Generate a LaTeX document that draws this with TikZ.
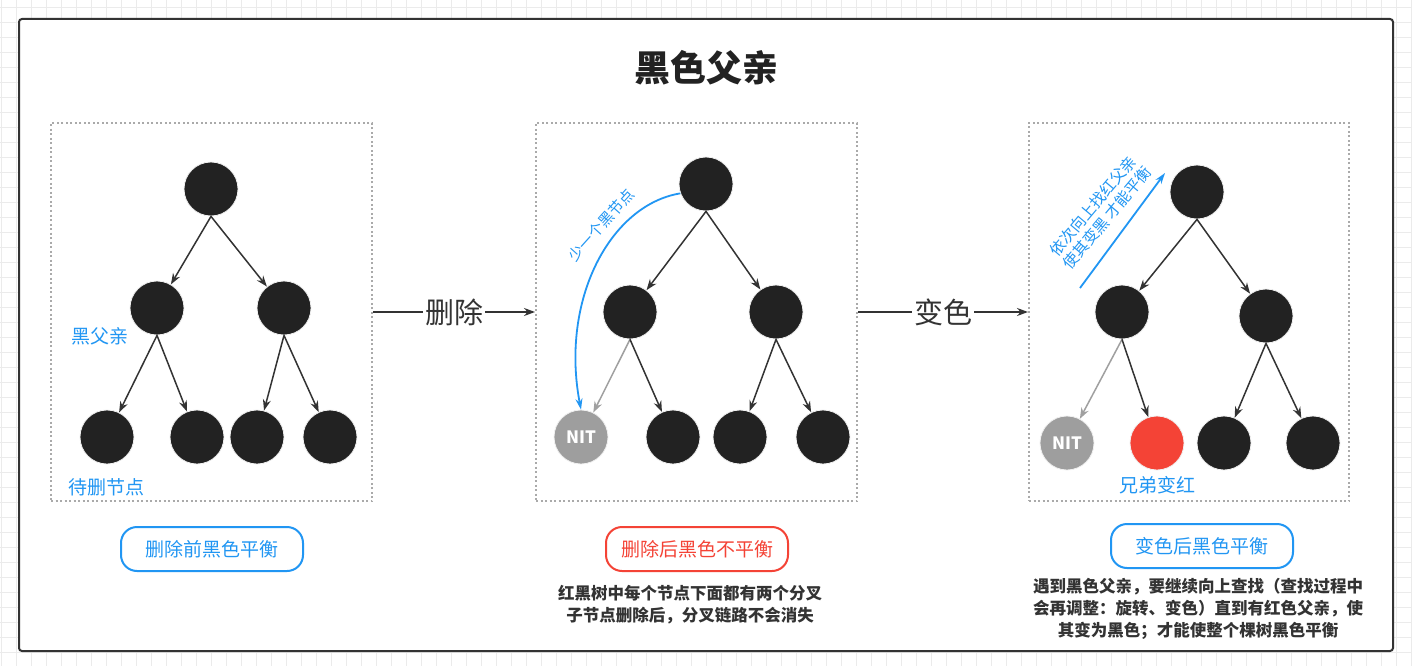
\documentclass[tikz,border=0pt]{standalone}
\usepackage{fontspec}
\setmainfont{Noto Sans CJK SC}
\usepackage{xcolor}
\usetikzlibrary{arrows.meta}
\definecolor{nodeblack}{HTML}{222222}
\definecolor{nilgray}{HTML}{9E9E9E}
\definecolor{nodered}{HTML}{F44336}
\definecolor{tipblue}{HTML}{2196F3}
\definecolor{arrowdark}{HTML}{333333}
\definecolor{arrowlight}{HTML}{A0A0A0}
\definecolor{panelgray}{HTML}{AAAAAA}
\definecolor{gridgray}{HTML}{EBEBEB}
\newcommand{\fsz}[2]{\fontsize{#1}{#2}\selectfont}

\begin{document}
\begin{tikzpicture}[x=1pt,y=-1pt,
    blk/.style={circle,fill=nodeblack,draw=black!6,line width=0.8pt,minimum size=54pt,inner sep=0pt},
    nilnode/.style={blk,fill=nilgray,text=white,font=\fsz{17}{17}\bfseries},
    rednode/.style={blk,fill=nodered},
    edge/.style={-{Stealth[length=11pt,width=8pt]},line width=1.5pt,arrowdark},
    niledge/.style={edge,arrowlight},
    flow/.style={-{Stealth[length=11pt,width=8pt]},line width=1.6pt,arrowdark},
    opname/.style={fill=white,inner sep=2pt,text=arrowdark,font=\fsz{29}{29}},
    panel/.style={draw=panelgray,line width=2pt,dash pattern=on 2pt off 2.5pt,minimum height=378pt,inner sep=0pt},
    pill/.style={draw,line width=2pt,rounded corners=16pt,minimum width=182pt,minimum height=44pt,font=\fsz{19}{19}},
    tip/.style={text=tipblue,font=\fsz{19}{19},inner sep=0pt},
    hint/.style={-{Stealth[length=11pt,width=7pt]},line width=1.8pt,tipblue},
    remark/.style={align=center,text=arrowdark,font=\fsz{16.5}{22}\bfseries},
    gridline/.style={gridgray,line width=0.8pt}
]
\useasboundingbox (0,0) rectangle (1412,666);
%%% background grid and frame
\foreach \gx in {1,16,...,1411} \draw[gridline] (\gx,0) -- (\gx,666);
\foreach \gy in {7,22,...,666} \draw[gridline] (0,\gy) -- (1412,\gy);
\draw[fill=white,draw=arrowdark,line width=2pt,rounded corners=3pt] (19,19) rectangle (1393,651);
\node[font=\fsz{36}{36}\bfseries,text=nodeblack] (title) at (706,68) {黑色父亲};

%%% panels
\node[panel,minimum width=321pt] (pan1) at (211.5,312) {};
\node[panel,minimum width=321pt] (pan2) at (696.5,312) {};
\node[panel,minimum width=320pt] (pan3) at (1189,312) {};
\draw[flow] (pan1.east) -- node[opname] (opdel) {删除} (pan2.west);
\draw[flow] (pan2.east) -- node[opname] (oprecolor) {变色} (pan3.west);

%%% panel 1: before deletion
\node[blk] (a1) at (211,189) {};
\node[blk] (a2) at (157,308) {};
\node[blk] (a3) at (284,308) {};
\node[blk] (a4) at (107,437) {};
\node[blk] (a5) at (197,437) {};
\node[blk] (a6) at (257,437) {};
\node[blk] (a7) at (330,437) {};
\draw[edge] (a1.south) -- (a2);
\draw[edge] (a1.south) -- (a3);
\draw[edge] (a2.south) -- (a4);
\draw[edge] (a2.south) -- (a5);
\draw[edge] (a3.south) -- (a6);
\draw[edge] (a3.south) -- (a7);
\node[tip] (lblparent) at (100,336) {黑父亲};
\node[tip] (lbldel) at (106,487) {待删节点};

%%% panel 2: after deletion
\node[blk] (b1) at (706,184) {};
\node[blk] (b2) at (630,312) {};
\node[blk] (b3) at (776,312) {};
\node[nilnode] (b4) at (581,437) {NIT};
\node[blk] (b5) at (673,437) {};
\node[blk] (b6) at (740,437) {};
\node[blk] (b7) at (823,437) {};
\draw[edge] (b1.south) -- (b2);
\draw[edge] (b1.south) -- (b3);
\draw[niledge] (b2.south) -- (b4);
\draw[edge] (b2.south) -- (b5);
\draw[edge] (b3.south) -- (b6);
\draw[edge] (b3.south) -- (b7);
% missing black node along the path
\draw[hint] (b1.200) .. controls (610,205) and (560,300) .. (b4.north);
\node[tip,font=\fsz{15}{15},rotate=48] (lblmiss) at (601,225) {少一个黑节点};

%%% panel 3: after recolouring
\node[blk] (c1) at (1197,192) {};
\node[blk] (c2) at (1122,312) {};
\node[blk] (c3) at (1266,316) {};
\node[nilnode] (c4) at (1067,443) {NIT};
\node[rednode] (c5) at (1157,443) {};
\node[blk] (c6) at (1224,443) {};
\node[blk] (c7) at (1313,443) {};
\draw[edge] (c1.south) -- (c2);
\draw[edge] (c1.south) -- (c3);
\draw[niledge] (c2.south) -- (c4);
\draw[edge] (c2.south) -- (c5);
\draw[edge] (c3.south) -- (c6);
\draw[edge] (c3.south) -- (c7);
\coordinate (up0) at (1080,288);
\coordinate (up1) at (1165,173);
\draw[hint] (up0) -- (up1);
\node[tip,align=center,font=\fsz{15.5}{19},rotate=50] (lblup) at (1100,212) {依次向上找红父亲\\使其变黑 才能平衡};
\node[tip] (lblsib) at (1157,485) {兄弟变红};

%%% captions
\node[pill,draw=tipblue,text=tipblue] (cap1) at (212,549) {删除前黑色平衡};
\node[pill,draw=nodered,text=nodered] (cap2) at (697,549) {删除后黑色不平衡};
\node[pill,draw=tipblue,text=tipblue] (cap3) at (1202,546) {变色后黑色平衡};
\node[remark] (rem2) at (690,605) {红黑树中每个节点下面都有两个分叉\\子节点删除后，分叉链路不会消失};
\node[remark] (rem3) at (1198,609) {遇到黑色父亲，要继续向上查找（查找过程中\\会再调整：旋转、变色）直到有红色父亲，使\\其变为黑色；才能使整个棵树黑色平衡};
\end{tikzpicture}
\end{document}
